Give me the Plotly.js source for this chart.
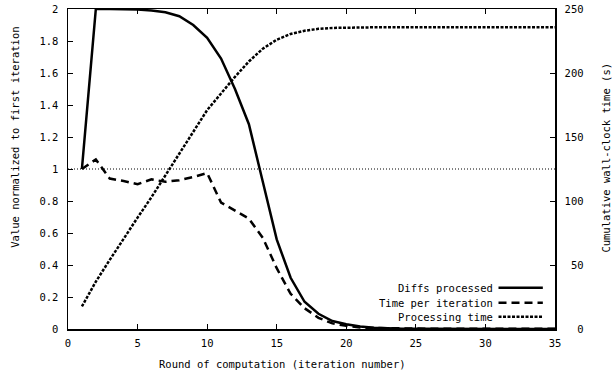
<!DOCTYPE html>
<html>
<head>
<meta charset="utf-8">
<script src="https://cdn.plot.ly/plotly-3.0.1.min.js"></script>
<style>html,body{margin:0;padding:0;background:#fff;}#chart{width:616px;height:377px;}</style>
</head>
<body>
<div id="chart"></div>
<script>
const rounds = [1,2,3,4,5,6,7,8,9,10,11,12,13,14,15,16,17,18,19,20,21,22,23,24,25,26,27,28,29,30,31,32,33,34,35];
const diffsProcessed = [1.0,2.0,2.0,2.0,1.997,1.99,1.98,1.955,1.9,1.82,1.69,1.5,1.28,0.92,0.56,0.32,0.17,0.095,0.05,0.03,0.015,0.008,0.004,0.002,0.001,0.001,0.001,0.0005,0.0005,0.0003,0.0002,0.0001,0.0001,0.0001,0.0];
const timePerIteration = [1.0,1.06,0.94,0.925,0.905,0.935,0.92,0.93,0.95,0.975,0.79,0.74,0.69,0.57,0.38,0.22,0.13,0.07,0.035,0.02,0.01,0.006,0.004,0.003,0.002,0.002,0.001,0.001,0.001,0.001,0.001,0.001,0.001,0.001,0.001];
const processingTime = [17.6,37,54,71,87,103,120,137,154,171,184,197,209,219,226,230.5,233,234.5,235.2,235.5,235.6,235.7,235.7,235.7,235.7,235.7,235.7,235.7,235.7,235.7,235.7,235.7,235.7,235.7,235.7];
const legendNames = ['Diffs processed','Time per iteration','Processing time'];
const xTicks = [0,5,10,15,20,25,30,35];
const yTicks = [0,0.2,0.4,0.6,0.8,1,1.2,1.4,1.6,1.8,2];
const y2Ticks = [0,50,100,150,200,250];
const y2TickText = ['\u00A0\u00A00','\u00A050','100','150','200','250'];
const xTitle = 'Round of computation (iteration number)';
const yTitle = 'Value normalized to first iteration';
const y2Title = 'Cumulative wall-clock time (s)';

const FONT = 'DejaVu Sans Mono, Liberation Mono, monospace';
const DASHED = '8px,5px';
const DOTTED = '3px,1.5px';
const traces = [
  {x: rounds, y: diffsProcessed, mode: 'lines', name: legendNames[0], line: {color: '#000', width: 2.5}},
  {x: rounds, y: timePerIteration, mode: 'lines', name: legendNames[1], line: {color: '#000', width: 2.5, dash: DASHED}},
  {x: rounds, y: processingTime, mode: 'lines', name: legendNames[2], yaxis: 'y2', line: {color: '#000', width: 2.5, dash: DOTTED}}
];
const legY = [0.129, 0.082, 0.038];
const dashes = ['solid', DASHED, DOTTED];
const shapes = [
  {type: 'line', xref: 'paper', yref: 'y', x0: 0, x1: 1, y0: 1, y1: 1, line: {color: '#000', width: 1, dash: '1px,2px'}, layer: 'below'}
];
const tf = {family: FONT, size: 10.5, color: '#000'};
const annotations = [
  {xref: 'paper', yref: 'paper', x: 0.441, y: -0.108, xanchor: 'center', yanchor: 'middle', text: xTitle, showarrow: false, font: tf},
  {xref: 'paper', yref: 'paper', x: -0.108, y: 0.599, xanchor: 'center', yanchor: 'middle', text: yTitle, textangle: -90, showarrow: false, font: tf},
  {xref: 'paper', yref: 'paper', x: 1.105, y: 0.536, xanchor: 'center', yanchor: 'middle', text: y2Title, textangle: -90, showarrow: false, font: tf}
];
legendNames.forEach((n, i) => {
  annotations.push({xref: 'paper', yref: 'paper', x: 0.877, y: legY[i], xanchor: 'right', yanchor: 'middle', text: n, showarrow: false, font: tf});
  shapes.push({type: 'line', xref: 'paper', yref: 'paper', x0: 0.884, x1: 0.975, y0: legY[i], y1: legY[i], line: {color: '#000', width: 2.5, dash: dashes[i]}});
});
const layout = {
  width: 616, height: 377,
  margin: {l: 68, r: 61, t: 9, b: 48},
  paper_bgcolor: '#fff', plot_bgcolor: '#fff',
  showlegend: false,
  font: {family: FONT, size: 10.5, color: '#000'},
  xaxis: {range: [0, 35], tickvals: xTicks, ticks: 'inside', ticklen: 5, tickcolor: '#000', showline: true, linecolor: '#000', linewidth: 1.5, mirror: 'ticks', showgrid: false, zeroline: false, ticklabelstandoff: 4},
  yaxis: {range: [0, 2], tickvals: yTicks, ticktext: yTicks.map(v => String(v)), ticks: 'inside', ticklen: 5, tickcolor: '#000', showline: true, linecolor: '#000', linewidth: 1.5, showgrid: false, zeroline: false, ticklabelstandoff: 6},
  yaxis2: {range: [0, 250], tickvals: y2Ticks, ticktext: y2TickText, overlaying: 'y', side: 'right', ticks: 'inside', ticklen: 5, tickcolor: '#000', showline: true, linecolor: '#000', linewidth: 1.5, showgrid: false, zeroline: false, ticklabelstandoff: 6},
  shapes: shapes,
  annotations: annotations
};
Plotly.newPlot('chart', traces, layout, {displayModeBar: false, staticPlot: true});
</script>
</body>
</html>
